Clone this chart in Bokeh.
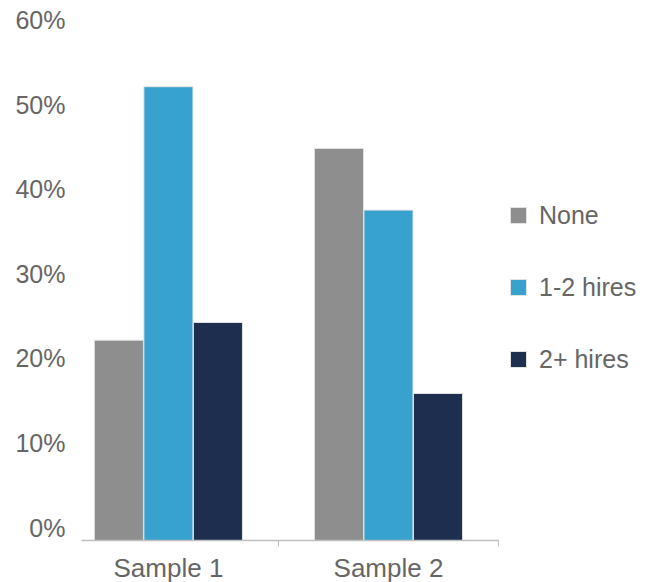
from bokeh.plotting import figure
from bokeh.models import (ColumnDataSource, Range1d, LinearAxis, FixedTicker,
                          PrintfTickFormatter, Legend, LegendItem)
from bokeh.transform import dodge
from bokeh.embed import file_html
from bokeh.resources import INLINE

categories = ["Sample 1", "Sample 2"]
series = ["None", "1-2 hires", "2+ hires"]
none_vals = [23.7, 46.4]
one_two_vals = [53.7, 39.1]
two_plus_vals = [25.8, 17.4]
y_ticks = [0, 10, 20, 30, 40, 50, 60]
colors = ["#8e8e8e", "#38a2cf", "#1e2e4f"]

FONT = "Liberation Sans"
TXT = "#666666"

src = ColumnDataSource(dict(
    x=list(range(len(categories))),
    none=none_vals,
    one_two=one_two_vals,
    two_plus=two_plus_vals,
))

p = figure(frame_width=417, frame_height=530, output_backend="svg", toolbar_location=None,
           x_range=Range1d(-0.395, 1.5), y_range=Range1d(0, 62.72),
           min_border_left=81, min_border_right=162, min_border_top=10,
           min_border_bottom=42, y_axis_location=None)
p.outline_line_color = None
p.xgrid.visible = False
p.ygrid.visible = False
p.background_fill_color = "white"
p.border_fill_color = "white"

offsets = [-0.225, 0.0, 0.225]
fields = ["none", "one_two", "two_plus"]
renderers = []
for f, off, c in zip(fields, offsets, colors):
    r = p.vbar(x=dodge("x", off, range=p.x_range), top=f, bottom=0, width=0.223,
               source=src, fill_color=c, line_color="#e2e2e2", line_width=1)
    renderers.append(r)

# x axis
xa = p.xaxis[0]
xa.ticker = FixedTicker(ticks=list(range(len(categories))), minor_ticks=[0.5, 1.5])
xa.major_label_overrides = {i: c for i, c in enumerate(categories)}
xa.major_tick_out = 0
xa.major_tick_in = 0
xa.minor_tick_out = 6
xa.minor_tick_in = 0
xa.minor_tick_line_color = "#bfbfbf"
xa.axis_line_color = "#bfbfbf"
xa.axis_line_width = 1.5
xa.major_label_text_font = FONT
xa.major_label_text_font_size = "26px"
xa.major_label_text_color = TXT
xa.major_label_standoff = 6

# y axis (labels drawn slightly above the tick positions, as in the original)
p.extra_y_ranges = {"lab": Range1d(-1.538, 61.18)}
ya = LinearAxis(y_range_name="lab", ticker=FixedTicker(ticks=y_ticks),
                formatter=PrintfTickFormatter(format="%d%%"))
ya.axis_line_color = None
ya.major_tick_line_color = None
ya.minor_tick_line_color = None
ya.major_label_text_font = FONT
ya.major_label_text_font_size = "25px"
ya.major_label_text_color = TXT
ya.major_label_standoff = 10
p.add_layout(ya, "left")

legend = Legend(items=[LegendItem(label=s, renderers=[r]) for s, r in zip(series, renderers)],
                location=(10, 166), margin=0, padding=0, spacing=42,
                glyph_width=20, glyph_height=20, label_height=30,
                label_standoff=11, border_line_color=None, background_fill_alpha=0,
                label_text_font=FONT, label_text_font_size="25px", label_text_color=TXT)
p.add_layout(legend, "right")

open("out.html", "w").write(file_html(p, INLINE))
